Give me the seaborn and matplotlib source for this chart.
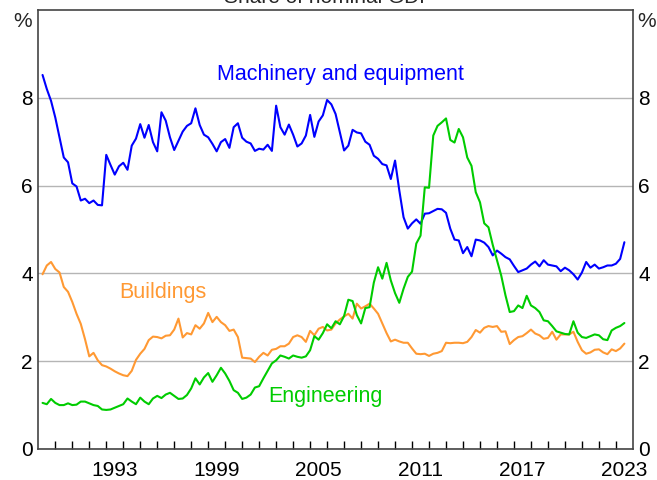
import numpy as np
import pandas as pd
import seaborn as sns
import matplotlib.pyplot as plt
from matplotlib.ticker import FixedLocator, NullFormatter

# quarterly, 1989Q1 to 2023Q2, per cent of nominal GDP
quarters = pd.period_range('1989Q1', '2023Q2', freq='Q')

machinery = [
    8.52, 8.20, 7.93, 7.55, 7.10, 6.64, 6.53, 6.05, 5.98, 5.66, 5.70, 5.60,
    5.66, 5.56, 5.55, 6.70, 6.47, 6.25, 6.44, 6.52, 6.36, 6.91, 7.07,
    7.40, 7.09, 7.38, 6.99, 6.78, 7.67, 7.48, 7.10, 6.81, 7.02, 7.23, 7.36,
    7.42, 7.76, 7.38, 7.16, 7.10, 6.95, 6.78, 6.99, 7.06, 6.86, 7.33,
    7.42, 7.09, 7.00, 6.96, 6.79, 6.84, 6.82, 6.93, 6.79, 7.82, 7.33, 7.16,
    7.39, 7.16, 6.89, 6.96, 7.14, 7.61, 7.11, 7.46, 7.60, 7.95,
    7.85, 7.63, 7.21, 6.80, 6.91, 7.27, 7.21, 7.19, 7.00, 6.93, 6.68, 6.61,
    6.49, 6.46, 6.15, 6.57, 5.89, 5.28, 5.02, 5.14, 5.23, 5.13, 5.36, 5.37,
    5.42, 5.47, 5.46, 5.38, 5.02, 4.77, 4.75, 4.46, 4.60,
    4.39, 4.77, 4.75, 4.70, 4.60, 4.41, 4.52, 4.45, 4.37, 4.32, 4.17, 4.03,
    4.07, 4.11, 4.20, 4.27, 4.16, 4.30, 4.20, 4.18, 4.16, 4.05, 4.13, 4.07,
    3.98, 3.86, 4.02, 4.26, 4.13, 4.20, 4.11, 4.14, 4.18, 4.18, 4.22, 4.33,
    4.71,
]

buildings = [
    3.98, 4.18, 4.26, 4.10, 4.02, 3.69, 3.58, 3.35, 3.08, 2.85, 2.50, 2.11,
    2.19, 2.02, 1.91, 1.88, 1.83, 1.77, 1.72, 1.68, 1.66, 1.78, 2.03,
    2.17, 2.28, 2.48, 2.56, 2.55, 2.52, 2.58, 2.59, 2.72, 2.97, 2.54, 2.64,
    2.61, 2.82, 2.74, 2.86, 3.10, 2.89, 3.01, 2.89, 2.82, 2.69, 2.72,
    2.55, 2.08, 2.07, 2.06, 1.98, 2.10, 2.19, 2.13, 2.26, 2.28, 2.34, 2.34,
    2.40, 2.55, 2.59, 2.55, 2.44, 2.69, 2.59, 2.74, 2.78, 2.70,
    2.72, 2.86, 2.95, 3.02, 3.08, 2.97, 3.31, 3.20, 3.25, 3.31, 3.20, 3.08,
    2.86, 2.64, 2.45, 2.49, 2.45, 2.42, 2.42, 2.29, 2.17, 2.16, 2.17, 2.12,
    2.17, 2.19, 2.23, 2.42, 2.41, 2.42, 2.42, 2.41, 2.44,
    2.55, 2.71, 2.65, 2.76, 2.80, 2.78, 2.80, 2.67, 2.68, 2.39, 2.48, 2.55,
    2.57, 2.64, 2.72, 2.63, 2.59, 2.51, 2.53, 2.67, 2.49, 2.61, 2.61, 2.61,
    2.67, 2.44, 2.25, 2.17, 2.20, 2.26, 2.27, 2.20, 2.16, 2.27, 2.23, 2.29,
    2.40,
]

engineering = [
    1.05, 1.02, 1.14, 1.05, 1.00, 1.00, 1.04, 1.00, 1.01, 1.08, 1.08, 1.04,
    1.00, 0.98, 0.90, 0.89, 0.90, 0.94, 0.98, 1.02, 1.15, 1.08, 1.02,
    1.17, 1.08, 1.02, 1.15, 1.21, 1.16, 1.24, 1.28, 1.21, 1.14, 1.15, 1.23,
    1.38, 1.61, 1.47, 1.63, 1.73, 1.53, 1.68, 1.85, 1.72, 1.55, 1.34,
    1.28, 1.14, 1.17, 1.24, 1.40, 1.43, 1.61, 1.78, 1.95, 2.02, 2.13, 2.10,
    2.06, 2.13, 2.10, 2.08, 2.11, 2.25, 2.57, 2.49, 2.64, 2.84,
    2.75, 2.91, 2.84, 3.03, 3.40, 3.37, 3.05, 2.86, 3.21, 3.23, 3.79, 4.14,
    3.88, 4.24, 3.84, 3.55, 3.33, 3.65, 3.92, 4.04, 4.68, 4.86, 5.96, 5.95,
    7.14, 7.36, 7.44, 7.53, 7.04, 6.98, 7.29, 7.10, 6.64,
    6.45, 5.85, 5.62, 5.14, 5.05, 4.65, 4.30, 3.95, 3.50, 3.12, 3.14, 3.27,
    3.21, 3.49, 3.27, 3.21, 3.12, 2.93, 2.91, 2.80, 2.68, 2.65, 2.62, 2.61,
    2.91, 2.65, 2.55, 2.53, 2.57, 2.61, 2.59, 2.50, 2.48, 2.70, 2.76, 2.80,
    2.87,
]

series_names = ['Machinery and equipment', 'Buildings', 'Engineering']
colours = ['#0000ff', '#ff9933', '#00cc00']
year_labels = ['1993', '1999', '2005', '2011', '2017', '2023']

# decimal year at end of each quarter
t = np.array([p.year + p.quarter / 4 for p in quarters])

df = pd.concat([
    pd.DataFrame({'date': t, 'share': machinery, 'series': series_names[0]}),
    pd.DataFrame({'date': t, 'share': buildings, 'series': series_names[1]}),
    pd.DataFrame({'date': t, 'share': engineering, 'series': series_names[2]}),
])

sns.set_theme(style='white')
plt.rcParams['font.family'] = ['Liberation Sans', 'DejaVu Sans']

fig = plt.figure(figsize=(6.57, 4.8), dpi=100)
ax = fig.add_axes([0.0583, 0.0646, 0.905, 0.9146])

sns.lineplot(data=df, x='date', y='share', hue='series',
             palette=dict(zip(series_names, colours)), linewidth=1.5,
             legend=False, ax=ax)

ax.set_xlim(1989, 2024)
ax.set_ylim(0, 10)
ax.set_xlabel('')
ax.set_ylabel('')

# year labels sit mid-year, small ticks at year boundaries
ax.xaxis.set_major_locator(FixedLocator([int(y) + 0.5 for y in year_labels]))
ax.set_xticklabels(year_labels)
ax.xaxis.set_minor_locator(FixedLocator(list(range(1990, 2024))))
ax.xaxis.set_minor_formatter(NullFormatter())
ax.tick_params(axis='x', which='major', length=0, pad=9, labelsize=15,
               colors='black')
ax.tick_params(axis='x', which='minor', direction='in', length=5.5,
               width=1, color='black', bottom=True)

ax.set_yticks([0, 2, 4, 6, 8])
ax.tick_params(axis='y', length=0, labelsize=15, labelleft=True,
               labelright=True, pad=4, colors='black')

ax.grid(axis='y', color='#b5b5b5', linewidth=1)
for s in ax.spines.values():
    s.set_visible(True)
    s.set_color('#444444')
    s.set_linewidth(1.2)

ax.text(-0.011, 0.995, '%', transform=ax.transAxes, ha='right', va='top',
        fontsize=15)
ax.text(1.008, 0.995, '%', transform=ax.transAxes, ha='left', va='top',
        fontsize=15)

ax.text(2006.8, 8.52, series_names[0], color=colours[0], fontsize=15.5,
        ha='center', va='center')
ax.text(1996.35, 3.57, series_names[1], color=colours[1], fontsize=15.5,
        ha='center', va='center')
ax.text(2005.9, 1.20, series_names[2], color=colours[2], fontsize=15.5,
        ha='center', va='center')

# title sits mostly above the canvas, as in the source image
fig.text(0.5, 1 - 3 / 480, 'Share of nominal GDP', ha='center',
         va='baseline', fontsize=15)

fig.savefig('out.png', dpi=100)
